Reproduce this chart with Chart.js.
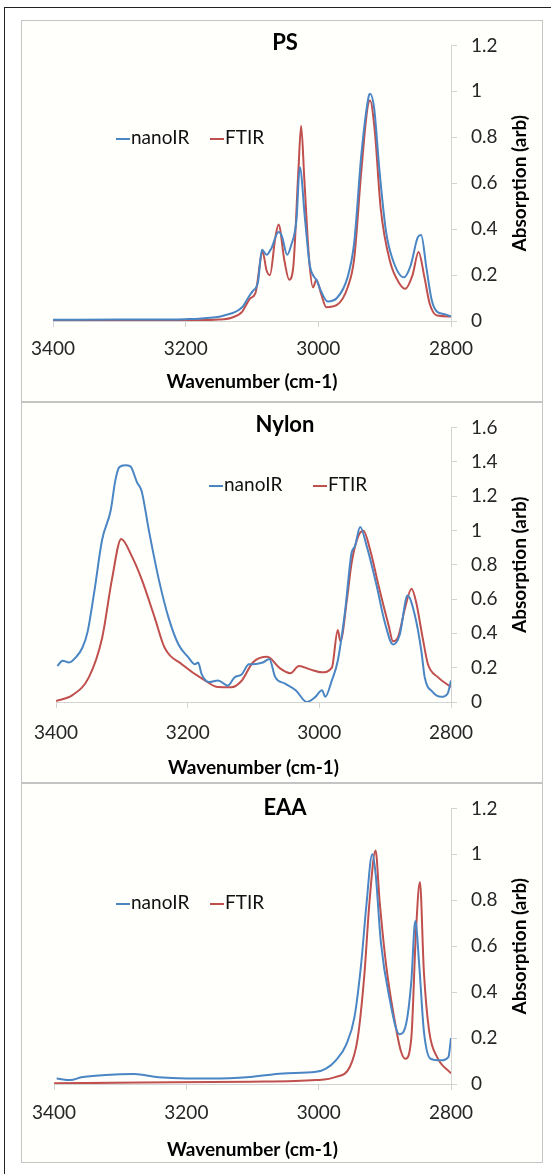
<!DOCTYPE html>
<html>
<head>
<meta charset="utf-8">
<title>nanoIR vs FTIR</title>
<script src="https://cdn.jsdelivr.net/npm/chart.js@4.4.1/dist/chart.umd.min.js"></script>
<style>
    body { margin: 0; background: #fff; width: 551px; height: 1174px; position: relative; overflow: hidden; font-family: Lato, sans-serif; }
    #frame { position: absolute; left: 4px; top: 7px; right: 0; bottom: 0; border-top: 1px solid #222; border-left: 1px solid #222; }
    .panel { position: absolute; left: 21px; width: 522px; box-sizing: border-box; border: 1px solid #c4c4c4; background: #fffffc; }
    .panel canvas { position: absolute; left: -1px; top: -1px; }
</style>
</head>
<body>
<div id="frame"></div>
<div class="panel" style="top:20px;height:382px"><canvas id="ps-chart" width="522" height="382"></canvas></div>
<div class="panel" style="top:402px;height:381px"><canvas id="nylon-chart" width="522" height="381"></canvas></div>
<div class="panel" style="top:783px;height:380px"><canvas id="eaa-chart" width="522" height="380"></canvas></div>

<script>
// wavenumbers (cm-1) and absorption
const psNanoWave = [3400, 3300, 3200, 3180, 3142, 3115, 3104, 3099, 3091, 3085, 3078, 3071, 3060, 3055, 3047, 3041, 3033, 3028, 3020, 3013, 3006, 3003, 2996, 2986, 2972, 2956, 2946, 2935, 2924, 2922, 2916, 2908, 2898, 2887, 2871, 2861, 2850, 2845, 2837, 2829, 2821, 2810, 2800];
const psNano = [0.005, 0.006, 0.008, 0.01, 0.024, 0.06, 0.11, 0.13, 0.17, 0.31, 0.288, 0.316, 0.387, 0.37, 0.288, 0.33, 0.44, 0.67, 0.44, 0.245, 0.19, 0.18, 0.13, 0.085, 0.10, 0.19, 0.34, 0.73, 0.98, 0.99, 0.93, 0.66, 0.39, 0.26, 0.19, 0.24, 0.365, 0.375, 0.23, 0.09, 0.04, 0.03, 0.02];
const psFtirWave = [3400, 3300, 3200, 3150, 3131, 3115, 3107, 3103, 3095, 3084, 3078, 3073, 3065, 3060, 3051, 3044, 3038, 3030, 3026, 3021, 3014, 3008, 3003, 2996, 2988, 2972, 2956, 2946, 2935, 2924, 2922, 2915, 2906, 2892, 2877, 2869, 2858, 2849, 2840, 2832, 2821, 2800];
const psFtir = [0.002, 0.002, 0.003, 0.006, 0.014, 0.04, 0.08, 0.098, 0.12, 0.3, 0.22, 0.2, 0.36, 0.42, 0.26, 0.18, 0.23, 0.66, 0.85, 0.61, 0.27, 0.146, 0.18, 0.12, 0.06, 0.07, 0.145, 0.27, 0.66, 0.955, 0.96, 0.83, 0.49, 0.26, 0.16, 0.14, 0.2, 0.30, 0.19, 0.074, 0.024, 0.02];

const nylonNanoWave = [3398, 3390, 3380, 3370, 3360, 3352, 3342, 3330, 3317, 3310, 3304, 3295, 3287, 3277, 3270, 3259, 3244, 3229, 3214, 3199, 3189, 3184, 3179, 3167, 3154, 3139, 3129, 3118, 3107, 3101, 3086, 3076, 3067, 3052, 3036, 3019, 3006, 2996, 2991, 2981, 2972, 2961, 2951, 2946, 2938, 2928, 2913, 2901, 2888, 2878, 2866, 2855, 2845, 2840, 2828, 2815, 2805, 2800];
const nylonNano = [0.21, 0.24, 0.23, 0.26, 0.316, 0.41, 0.64, 0.945, 1.116, 1.29, 1.368, 1.38, 1.373, 1.28, 1.23, 1.0, 0.716, 0.49, 0.335, 0.26, 0.22, 0.23, 0.164, 0.116, 0.126, 0.095, 0.143, 0.16, 0.22, 0.22, 0.23, 0.25, 0.145, 0.107, 0.069, 0.0, 0.03, 0.069, 0.03, 0.126, 0.24, 0.526, 0.87, 0.907, 1.02, 0.907, 0.678, 0.47, 0.335, 0.39, 0.62, 0.507, 0.297, 0.145, 0.059, 0.03, 0.05, 0.126];
const nylonFtirWave = [3400, 3375, 3350, 3330, 3315, 3301, 3285, 3270, 3250, 3235, 3209, 3174, 3154, 3134, 3118, 3101, 3079, 3061, 3044, 3031, 3014, 2996, 2981, 2972, 2968, 2958, 2951, 2941, 2933, 2923, 2910, 2895, 2888, 2880, 2870, 2860, 2853, 2843, 2835, 2820, 2800];
const nylonFtir = [0.006, 0.04, 0.145, 0.373, 0.716, 0.95, 0.85, 0.716, 0.49, 0.316, 0.22, 0.126, 0.087, 0.086, 0.124, 0.23, 0.263, 0.2, 0.168, 0.21, 0.19, 0.173, 0.2, 0.42, 0.354, 0.6, 0.81, 0.965, 0.998, 0.888, 0.678, 0.45, 0.354, 0.383, 0.545, 0.66, 0.583, 0.373, 0.22, 0.145, 0.087];

const eaaNanoWave = [3396, 3375, 3359, 3322, 3279, 3242, 3200, 3163, 3104, 3054, 3004, 2989, 2974, 2958, 2946, 2936, 2928, 2919, 2914, 2906, 2893, 2878, 2868, 2860, 2854, 2848, 2841, 2831, 2815, 2804, 2800];
const eaaNano = [0.024, 0.017, 0.029, 0.039, 0.043, 0.029, 0.024, 0.024, 0.031, 0.046, 0.053, 0.067, 0.103, 0.174, 0.29, 0.517, 0.775, 1.0, 0.917, 0.617, 0.374, 0.217, 0.26, 0.446, 0.71, 0.517, 0.23, 0.11, 0.103, 0.117, 0.2];
const eaaFtirWave = [3400, 3269, 3104, 3004, 2974, 2953, 2941, 2931, 2923, 2914, 2908, 2898, 2886, 2876, 2869, 2860, 2853, 2847, 2841, 2833, 2821, 2800];
const eaaFtir = [0.003, 0.006, 0.01, 0.017, 0.031, 0.074, 0.2, 0.474, 0.80, 1.017, 0.80, 0.517, 0.29, 0.146, 0.11, 0.2, 0.66, 0.88, 0.49, 0.23, 0.117, 0.046];

const seriesNames = ['nanoIR', 'FTIR'];
const seriesColors = ['#4a85c4', '#c0504d'];
const xTicks = [3400, 3200, 3000, 2800];
const xTitle = 'Wavenumber (cm-1)';
const yTitle = 'Absorption (arb)';

const axisColor = '#d3d3d3';
const tickColor = '#262626';

function toPoints(waves, values) {
    return waves.map((w, i) => ({ x: w, y: values[i] }));
}

// title, legend and the rotated y title are drawn on top, Excel style
const panelText = {
    id: 'panelText',
    afterDraw(chart, args, opts) {
        const ctx = chart.ctx;
        const area = chart.chartArea;
        ctx.save();
        ctx.fillStyle = '#000';
        ctx.textBaseline = 'middle';

        ctx.font = 'bold 22px Lato';
        ctx.textAlign = 'center';
        ctx.fillText(opts.title, chart.width / 2 + 3, opts.titleY);

        ctx.font = '19px Lato';
        ctx.textAlign = 'left';
        chart.data.datasets.forEach((ds, i) => {
            const x = opts.legendX[i];
            const y = opts.legendY;
            ctx.strokeStyle = ds.borderColor;
            ctx.lineWidth = 2;
            ctx.beginPath();
            ctx.moveTo(x, y + 1);
            ctx.lineTo(x + 14, y + 1);
            ctx.stroke();
            ctx.fillStyle = '#111';
            ctx.fillText(ds.label, x + 15, y);
        });

        ctx.translate(opts.yTitleX, (area.top + area.bottom) / 2);
        ctx.rotate(-Math.PI / 2);
        ctx.font = 'bold 19px Lato';
        ctx.textAlign = 'center';
        ctx.fillStyle = '#000';
        ctx.fillText(yTitle, 0, 0);
        ctx.restore();
    }
};

function drawSpectrum(canvasId, title, yMax, nanoWave, nano, ftirWave, ftir, p) {
    const ctx = document.getElementById(canvasId).getContext('2d');
    new Chart(ctx, {
        type: 'line',
        data: {
            datasets: [
                { label: seriesNames[0], data: toPoints(nanoWave, nano), borderColor: seriesColors[0] },
                { label: seriesNames[1], data: toPoints(ftirWave, ftir), borderColor: seriesColors[1] }
            ]
        },
        options: {
            responsive: false,
            animation: false,
            events: [],
            layout: { padding: { left: 32, top: p.top, right: 0, bottom: 0 } },
            elements: {
                point: { radius: 0 },
                line: { borderWidth: 2, cubicInterpolationMode: 'monotone', fill: false }
            },
            scales: {
                x: {
                    type: 'linear',
                    min: 2800,
                    max: 3400,
                    reverse: true,
                    afterBuildTicks: scale => { scale.ticks = xTicks.map(v => ({ value: v })); },
                    ticks: { callback: v => String(v), color: tickColor, font: { family: 'Lato', size: 19 }, padding: p.tickPad, maxRotation: 0 },
                    grid: { drawOnChartArea: false, tickLength: 6, color: axisColor },
                    border: { color: axisColor },
                    title: { display: true, text: xTitle, color: '#000', font: { family: 'Lato', size: 19, weight: 'bold' }, padding: { top: 0, bottom: p.titlePad } },
                    afterFit: scale => { scale.height = p.xHeight; }
                },
                y: {
                    position: 'right',
                    min: 0,
                    max: yMax,
                    ticks: {
                        stepSize: 0.2,
                        callback: v => String(Math.round(v * 10) / 10), // "1" not "1.0", like Excel
                        color: tickColor,
                        font: { family: 'Lato', size: 19 },
                        padding: 14
                    },
                    grid: { drawOnChartArea: false, tickLength: 6, color: axisColor },
                    border: { color: axisColor },
                    afterFit: scale => { scale.width = 92; }
                }
            },
            plugins: {
                legend: { display: false },
                tooltip: { enabled: false },
                panelText: { title: title, titleY: p.titleY, legendX: p.legendX, legendY: p.legendY, yTitleX: 499 }
            }
        },
        plugins: [panelText]
    });
}

document.addEventListener('DOMContentLoaded', () => {
    drawSpectrum('ps-chart', 'PS', 1.2, psNanoWave, psNano, psFtirWave, psFtir,
        { top: 19, xHeight: 81, tickPad: 10, titlePad: 9, titleY: 23, legendX: [95, 189], legendY: 118 });
    drawSpectrum('nylon-chart', 'Nylon', 1.6, nylonNanoWave, nylonNano, nylonFtirWave, nylonFtir,
        { top: 20, xHeight: 81, tickPad: 13, titlePad: 4, titleY: 23, legendX: [188, 292], legendY: 83 });
    drawSpectrum('eaa-chart', 'EAA', 1.2, eaaNanoWave, eaaNano, eaaFtirWave, eaaFtir,
        { top: 22, xHeight: 79, tickPad: 11, titlePad: 2, titleY: 25, legendX: [95, 189], legendY: 120 });
});
</script>
</body>
</html>
